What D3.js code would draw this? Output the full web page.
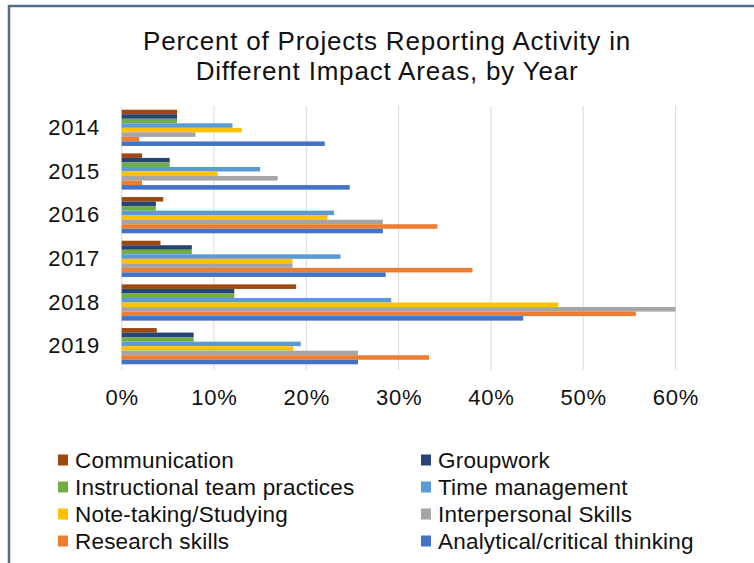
<!DOCTYPE html>
<html>
<head>
<meta charset="utf-8">
<script src="https://cdn.jsdelivr.net/npm/d3@7"></script>
<style>
  html, body { margin: 0; padding: 0; background: #fff; }
  svg { display: block; font-family: "Liberation Sans", Arial, sans-serif; }
</style>
</head>
<body>
<svg id="chart" width="754" height="563"></svg>
<script>
const years = ["2014", "2015", "2016", "2017", "2018", "2019"];
const seriesNames = ["Communication", "Groupwork", "Instructional team practices", "Time management",
  "Note-taking/Studying", "Interpersonal Skills", "Research skills", "Analytical/critical thinking"];
const seriesColors = ["#9E480E", "#264478", "#70AD47", "#5B9BD5", "#FFC000", "#A5A5A5", "#ED7D31", "#4472C4"];
// values in percent, per series, ordered by year
const communication = [6.0, 2.2, 4.5, 4.2, 18.9, 3.8];
const groupwork = [6.0, 5.2, 3.7, 7.6, 12.2, 7.8];
const instructional = [6.0, 5.2, 3.7, 7.6, 12.2, 7.8];
const timeManagement = [12.0, 15.0, 23.0, 23.7, 29.2, 19.4];
const noteTaking = [13.0, 10.4, 22.3, 18.5, 47.3, 18.6];
const interpersonal = [8.0, 16.9, 28.3, 18.5, 60.0, 25.6];
const research = [1.9, 2.2, 34.2, 38.0, 55.7, 33.3];
const analytical = [22.0, 24.7, 28.3, 28.6, 43.5, 25.6];
const seriesValues = [communication, groupwork, instructional, timeManagement, noteTaking, interpersonal, research, analytical];
const xTicks = [0, 10, 20, 30, 40, 50, 60];

(function () {
const svg = d3.select("#chart");
const FONT = "'Liberation Sans', Arial, sans-serif";

// frame
svg.append("line").attr("x1", 9).attr("x2", 754).attr("y1", 6).attr("y2", 6)
  .attr("stroke", "#4F6E8A").attr("stroke-width", 2.5);
svg.append("line").attr("x1", 9).attr("x2", 9).attr("y1", 5).attr("y2", 563)
  .attr("stroke", "#4F6E8A").attr("stroke-width", 2.5);

// title
const title = svg.append("text").attr("text-anchor", "middle").attr("fill", "#111")
  .style("font-size", "26px").style("letter-spacing", "0.8px");
title.append("tspan").attr("x", 387).attr("y", 50).text("Percent of Projects Reporting Activity in");
title.append("tspan").attr("x", 387).attr("y", 80).text("Different Impact Areas, by Year");

const pLeft = 121.7, pRight = 675.5, pTop = 106, pBottom = 368;
const x = d3.scaleLinear().domain([0, 60]).range([pLeft, pRight]);
const y0 = d3.scaleBand().domain(years).range([pTop, pBottom]).paddingInner(0.17).paddingOuter(0.085);
const y1 = d3.scaleBand().domain(seriesNames).range([0, y0.bandwidth()]);

// gridlines
svg.append("g").selectAll("line").data(xTicks).join("line")
  .attr("x1", d => x(d)).attr("x2", d => x(d))
  .attr("y1", pTop).attr("y2", pBottom + 2)
  .attr("stroke", "#D9D9D9").attr("stroke-width", 1);

// bars
const groups = svg.append("g").selectAll("g").data(years).join("g")
  .attr("transform", d => `translate(0,${y0(d)})`);
groups.selectAll("rect").data((yr, i) => seriesNames.map((s, j) => ({ s, j, v: seriesValues[j][i] })))
  .join("rect")
  .attr("x", x(0))
  .attr("y", d => y1(d.s))
  .attr("height", y1.bandwidth())
  .attr("width", d => x(d.v) - x(0))
  .attr("fill", d => seriesColors[d.j]);

// y axis labels
const yAxis = d3.axisLeft(y0).tickSize(0).tickPadding(0);
const yg = svg.append("g").attr("transform", `translate(${100},0)`).call(yAxis);
yg.select(".domain").remove();
yg.selectAll("text").style("font-size", "22px").style("letter-spacing", "0.7px").attr("fill", "#111")
  .style("font-family", FONT);

// x axis labels
const xAxis = d3.axisBottom(x).tickValues(xTicks).tickFormat(d => d + "%").tickSize(0).tickPadding(0);
const xg = svg.append("g").attr("transform", `translate(0,${389})`).call(xAxis);
xg.select(".domain").remove();
xg.selectAll("text").style("font-size", "22px").style("letter-spacing", "0.8px").attr("fill", "#111")
  .style("font-family", FONT);

// legend
const legendCols = [58, 421];
const legendRows = [460, 487, 514, 541];
const leg = svg.append("g").selectAll("g").data(seriesNames).join("g")
  .attr("transform", (d, i) => `translate(${legendCols[i % 2]},${legendRows[Math.floor(i / 2)]})`);
leg.append("rect").attr("x", 0).attr("y", -5.5).attr("width", 10).attr("height", 11)
  .attr("fill", (d, i) => seriesColors[i]);
leg.append("text").attr("x", 17).attr("y", 0).attr("dy", "0.35em")
  .style("font-size", "22.5px").style("letter-spacing", "0.2px").attr("fill", "#111").text(d => d);
})();
</script>
</body>
</html>
